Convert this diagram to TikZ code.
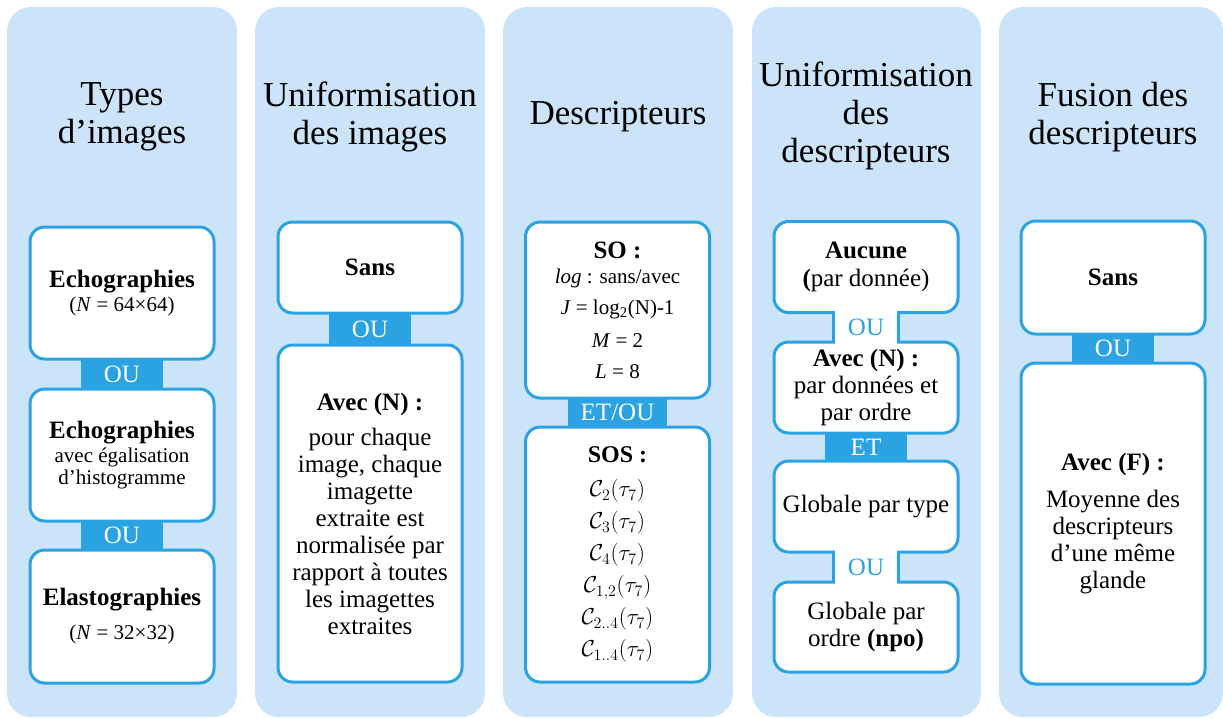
\documentclass[tikz,border=0pt]{standalone}
\usepackage{fontspec}
\setmainfont{Liberation Serif}
\usetikzlibrary{calc}
\definecolor{colbg}{HTML}{CCE4FA}
\definecolor{optblue}{HTML}{2BA3E3}

\begin{document}
\begin{tikzpicture}[x=0.75pt, y=-0.75pt,
  col/.style={fill=colbg, rounded corners=18pt},
  title/.style={align=center, font=\fontsize{26.25}{28.5}\selectfont},
  opt/.style={draw=optblue, line width=2.25pt, fill=white, rounded corners=11pt,
              minimum width=138pt, align=center, inner sep=0pt, outer sep=0pt,
              font=\fontsize{18.75}{20.25}\selectfont},
  link/.style={fill=optblue},
  linktext/.style={text=white, inner sep=0pt, font=\fontsize{18.75}{20}\selectfont},
  necktext/.style={text=optblue, inner sep=0pt, font=\fontsize{18.75}{20}\selectfont},
  neck/.style={draw=optblue, line width=2.25pt}
]
  \useasboundingbox (0,0) rectangle (1223,718);
  % column backgrounds
  \foreach \x/\w in {7/230,255/230,503/230,752/229,999/224}{\fill[col] (\x,7) rectangle ++(\w,710);}
  % titles
  \node[title] (t1) at (122,117) {Types\\d’images};
  \node[title] (t2) at (370,117) {Uniformisation\\des images};
  \node[title] (t3) at (618,117) {Descripteurs};
  \node[title] (t4) at (866,116) {Uniformisation\\des\\descripteurs};
  \node[title] (t5) at (1113,117) {Fusion des\\descripteurs};
  % types d'images
  \node[opt, minimum height=99pt] (e1) at (122,293)
    {\textbf{Echographies}\\[-2.25pt]{\fontsize{15.75}{18}\selectfont(\textit{N} = 64×64)}};
  \node[opt, minimum height=99pt] (e2) at (122,455)
    {\textbf{Echographies}\\[-2.25pt]{\fontsize{15.75}{18}\selectfont avec égalisation}\\[-3.75pt]{\fontsize{15.75}{18}\selectfont d’histogramme}};
  \node[opt, minimum height=99.75pt] (e3) at (122,616.5)
    {\textbf{Elastographies}\\[5.25pt]{\fontsize{15.75}{18}\selectfont(\textit{N} = 32×32)}};
  % uniformisation des images
  \node[opt, minimum height=68.25pt] (u1) at (370,267.5) {\textbf{Sans}};
  \node[opt, minimum height=252.75pt] (u2) at (370,513.5)
    {\textbf{Avec (N) :}\\[6pt]pour chaque\\image, chaque\\imagette\\extraite est\\normalisée par\\rapport à toutes\\les imagettes\\extraites};
  % descripteurs
  \node[opt, minimum height=132pt, font=\fontsize{15.75}{18.75}\selectfont] (d1) at (617.5,310)
    {{\fontsize{18.75}{20}\selectfont\textbf{SO :}}\\\textit{log} : sans/avec\\[4.5pt]\textit{J} = log\textsubscript{2}(N)-1\\[6pt]\textit{M} = 2\\[4.5pt]\textit{L} = 8};
  \node[opt, minimum height=191.25pt, font=\fontsize{18}{24}\selectfont] (d2) at (617.5,554.5)
    {\textbf{SOS :}\\[2pt]$\mathcal{C}_{2}(\tau_{7})$\\$\mathcal{C}_{3}(\tau_{7})$\\$\mathcal{C}_{4}(\tau_{7})$\\$\mathcal{C}_{1,2}(\tau_{7})$\\$\mathcal{C}_{2..4}(\tau_{7})$\\$\mathcal{C}_{1..4}(\tau_{7})$};
  % uniformisation des descripteurs
  \node[opt, minimum height=68.25pt] (a1) at (866,267) {\textbf{Aucune}\\[0.75pt]\textbf{(}par donnée)};
  \node[opt, minimum height=68.25pt] (a2) at (866,387.5) {\textbf{Avec (N) :}\\par données et\\par ordre};
  \node[opt, minimum height=68.25pt] (a3) at (866,506.5) {Globale par type};
  \node[opt, minimum height=67.5pt] (a4) at (866,627) {Globale par\\ordre \textbf{(npo)}};
  % fusion des descripteurs
  \node[opt, minimum height=84.75pt] (f1) at (1113,277.5) {\textbf{Sans}};
  \node[opt, minimum height=240.75pt] (f2) at (1113,523.5)
    {\textbf{Avec (F) :}\\[7.5pt]Moyenne des\\descripteurs\\d’une même\\glande};
  % OU / ET bars
  \foreach \a/\b/\t in {e1/e2/OU,e2/e3/OU,u1/u2/OU,a2/a3/ET,f1/f2/OU}{
    \fill[link] ($(\a.south)+(-41,0)$) rectangle ($(\b.north)+(41,0)$);
    \node[linktext] at ($(\a.south)!0.5!(\b.north)$) {\t};
  }
  \fill[link] ($(d1.south)+(-49.5,0)$) rectangle ($(d2.north)+(49.5,0)$);
  \node[linktext] at ($(d1.south)!0.5!(d2.north)$) {ET/OU};
  % white necks
  \foreach \a/\b in {a1/a2,a3/a4}{
    \fill[white] ($(\a.south)+(-31,-2)$) rectangle ($(\b.north)+(31,2)$);
    \draw[neck] ($(\a.south)+(-32.5,0)$) -- ($(\b.north)+(-32.5,0)$);
    \draw[neck] ($(\a.south)+(32.5,0)$) -- ($(\b.north)+(32.5,0)$);
    \node[necktext] at ($(\a.south)!0.5!(\b.north)$) {OU};
  }
\end{tikzpicture}
\end{document}
